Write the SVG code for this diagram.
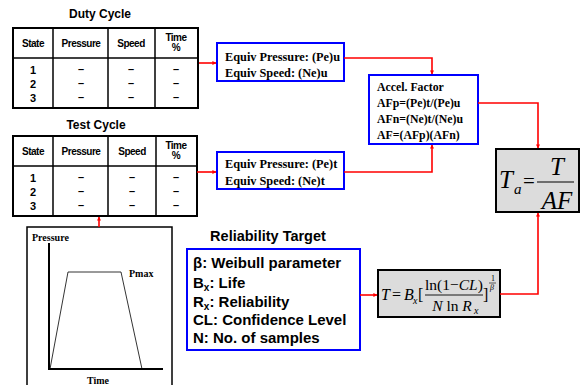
<svg xmlns="http://www.w3.org/2000/svg" width="584" height="385" viewBox="0 0 584 385">
<defs>
<marker id="ah" viewBox="0 0 10 10" refX="9" refY="5" markerWidth="4" markerHeight="4" orient="auto-start-reverse" markerUnits="userSpaceOnUse"><path d="M0,0 L10,5 L0,10 z" fill="#ff0000"/></marker>
<style>
.tb{fill:#fff;stroke:#000;stroke-width:2}
.tl{stroke:#000;stroke-width:1.5}
.th{font-family:"Liberation Sans",Arial,sans-serif;font-weight:bold;font-size:10px;text-anchor:middle;letter-spacing:-0.5px}
.td{font-family:"Liberation Sans",Arial,sans-serif;font-weight:bold;font-size:11px;text-anchor:middle}
.title{font-family:"Liberation Sans",Arial,sans-serif;font-weight:bold;font-size:12px;text-anchor:middle}
.bb{fill:#fff;stroke:#0000ff;stroke-width:2}
.st{font-family:"Liberation Serif","Times New Roman",serif;font-weight:bold}
.rt{font-family:"Liberation Sans",Arial,sans-serif;font-weight:bold;font-size:15px}
.gb{fill:#dcdcdc;stroke:#000;stroke-width:2}
.m{font-family:"Liberation Serif","Times New Roman",serif;font-style:italic}
.mr{font-family:"Liberation Serif","Times New Roman",serif}
.c{fill:none;stroke:#ff0000;stroke-width:1.6}
</style>
</defs>

<g id="duty-cycle">
<text class="title" x="100" y="18">Duty Cycle</text>
<rect class="tb" x="13" y="28" width="185" height="80"/>
<line class="tl" x1="13" y1="58" x2="198" y2="58"/>
<line class="tl" x1="53" y1="28" x2="53" y2="108"/>
<line class="tl" x1="108" y1="28" x2="108" y2="108"/>
<line class="tl" x1="155" y1="28" x2="155" y2="108"/>
<text class="th" x="33" y="47">State</text>
<text class="th" x="81" y="47">Pressure</text>
<text class="th" x="131" y="47">Speed</text>
<text class="th" x="176" y="41">Time</text>
<text class="th" x="176" y="51">%</text>
<text class="td" x="33" y="74">1</text><text class="td" x="33" y="88">2</text><text class="td" x="33" y="102">3</text>
<text class="td" x="81" y="73">–</text><text class="td" x="81" y="87">–</text><text class="td" x="81" y="101">–</text>
<text class="td" x="131" y="73">–</text><text class="td" x="131" y="87">–</text><text class="td" x="131" y="101">–</text>
<text class="td" x="176" y="73">–</text><text class="td" x="176" y="87">–</text><text class="td" x="176" y="101">–</text>
</g>

<g id="test-cycle">
<text class="title" x="96" y="129">Test Cycle</text>
<rect class="tb" x="13" y="136" width="184" height="80"/>
<line class="tl" x1="13" y1="166" x2="197" y2="166"/>
<line class="tl" x1="53" y1="136" x2="53" y2="216"/>
<line class="tl" x1="108" y1="136" x2="108" y2="216"/>
<line class="tl" x1="156" y1="136" x2="156" y2="216"/>
<text class="th" x="33" y="155">State</text>
<text class="th" x="81" y="155">Pressure</text>
<text class="th" x="132" y="155">Speed</text>
<text class="th" x="176" y="149">Time</text>
<text class="th" x="176" y="159">%</text>
<text class="td" x="33" y="182">1</text><text class="td" x="33" y="196">2</text><text class="td" x="33" y="210">3</text>
<text class="td" x="81" y="181">–</text><text class="td" x="81" y="195">–</text><text class="td" x="81" y="209">–</text>
<text class="td" x="132" y="181">–</text><text class="td" x="132" y="195">–</text><text class="td" x="132" y="209">–</text>
<text class="td" x="176" y="181">–</text><text class="td" x="176" y="195">–</text><text class="td" x="176" y="209">–</text>
</g>

<g id="pressure-profile">
<rect x="27" y="227" width="145" height="160" fill="#fff" stroke="#000" stroke-width="1.5"/>
<line x1="49" y1="243" x2="49" y2="369" stroke="#000" stroke-width="2"/>
<line x1="48" y1="369" x2="163" y2="369" stroke="#000" stroke-width="2"/>
<polyline points="50,369 68,272 121,272 142,369" fill="none" stroke="#000" stroke-width="0.8"/>
<text class="st" x="32" y="241" style="font-size:10px">Pressure</text>
<text class="st" x="129" y="277" style="font-size:10px">Pmax</text>
<text class="st" x="98" y="384" style="font-size:10px" text-anchor="middle">Time</text>
</g>

<g id="equiv-u">
<rect class="bb" x="217" y="43" width="127" height="38"/>
<text class="st" x="225" y="61" style="font-size:12.3px">Equiv Pressure: (Pe)u</text>
<text class="st" x="225" y="77" style="font-size:12.3px">Equiv Speed: (Ne)u</text>
</g>

<g id="equiv-t">
<rect class="bb" x="217" y="152" width="127" height="37"/>
<text class="st" x="225" y="168" style="font-size:12.3px">Equiv Pressure: (Pe)t</text>
<text class="st" x="225" y="185" style="font-size:12.3px">Equiv Speed: (Ne)t</text>
</g>

<g id="accel-factor">
<rect class="bb" x="369" y="75" width="109" height="69"/>
<text class="st" x="377" y="91" style="font-size:11.8px">Accel. Factor</text>
<text class="st" x="377" y="107" style="font-size:11.8px">AFp=(Pe)t/(Pe)u</text>
<text class="st" x="377" y="123" style="font-size:11.8px">AFn=(Ne)t/(Ne)u</text>
<text class="st" x="377" y="139" style="font-size:11.8px">AF=(AFp)(AFn)</text>
</g>

<g id="ta">
<rect class="gb" x="496" y="149" width="83" height="63"/>
<text class="m" x="499" y="188" style="font-size:25px">T</text>
<text class="m" x="514" y="194" style="font-size:15px">a</text>
<text class="mr" x="523" y="188" style="font-size:21px">=</text>
<line x1="537" y1="182" x2="574" y2="182" stroke="#000" stroke-width="1.2"/>
<text class="m" x="557" y="175" style="font-size:25px" text-anchor="middle">T</text>
<text class="m" x="557" y="209" style="font-size:25px" text-anchor="middle">AF</text>
</g>

<g id="reliability-target">
<text class="title" x="268" y="241" style="font-size:14.5px">Reliability Target</text>
<rect class="bb" x="187" y="249" width="173" height="101"/>
<text class="rt" x="193" y="268">β: Weibull parameter</text>
<text class="rt" x="193" y="288">B<tspan style="font-size:10px" dy="3">x</tspan><tspan dy="-3">: Life</tspan></text>
<text class="rt" x="193" y="307">R<tspan style="font-size:10px" dy="3">x</tspan><tspan dy="-3">: Reliability</tspan></text>
<text class="rt" x="193" y="325">CL: Confidence Level</text>
<text class="rt" x="193" y="343">N: No. of samples</text>
</g>

<g id="life-formula">
<rect class="gb" x="378" y="270" width="122" height="47"/>
<text class="m" x="381" y="300" style="font-size:16px">T</text>
<text class="mr" x="392" y="300" style="font-size:16px">=</text>
<text class="m" x="404" y="300" style="font-size:16px">B</text>
<text class="m" x="413" y="304" style="font-size:10px">x</text>
<text class="mr" x="418" y="300" style="font-size:16px">[</text>
<text class="mr" x="454" y="290" style="font-size:15.5px" text-anchor="middle">ln(1<tspan>−</tspan><tspan font-style="italic">CL</tspan>)</text>
<line x1="425" y1="295" x2="483" y2="295" stroke="#000" stroke-width="0.9"/>
<text class="mr" x="452" y="311" style="font-size:15.5px" text-anchor="middle"><tspan font-style="italic">N</tspan> ln <tspan font-style="italic">R</tspan></text>
<text class="m" x="474" y="314" style="font-size:10px">x</text>
<text class="mr" x="483" y="300" style="font-size:16px">]</text>
<text class="mr" x="491" y="281" style="font-size:8px">1</text>
<line x1="489" y1="283" x2="496" y2="283" stroke="#000" stroke-width="0.6"/>
<text class="m" x="490" y="290" style="font-size:8px">β</text>
</g>

<g id="connectors">
<path class="c" d="M199,63 L216,63" marker-end="url(#ah)"/>
<path class="c" d="M197,172 L216,172" marker-end="url(#ah)"/>
<path class="c" d="M344,58 L432,58 L432,74" marker-end="url(#ah)"/>
<path class="c" d="M344,172 L432,172 L432,145" marker-end="url(#ah)"/>
<path class="c" d="M478,103 L538,103 L538,148" marker-end="url(#ah)"/>
<path class="c" d="M500,294 L538,294 L538,213" marker-end="url(#ah)"/>
<path class="c" d="M360,295 L377,295" marker-end="url(#ah)"/>
<path class="c" d="M99,227 L99,217" marker-end="url(#ah)"/>
</g>
</svg>
